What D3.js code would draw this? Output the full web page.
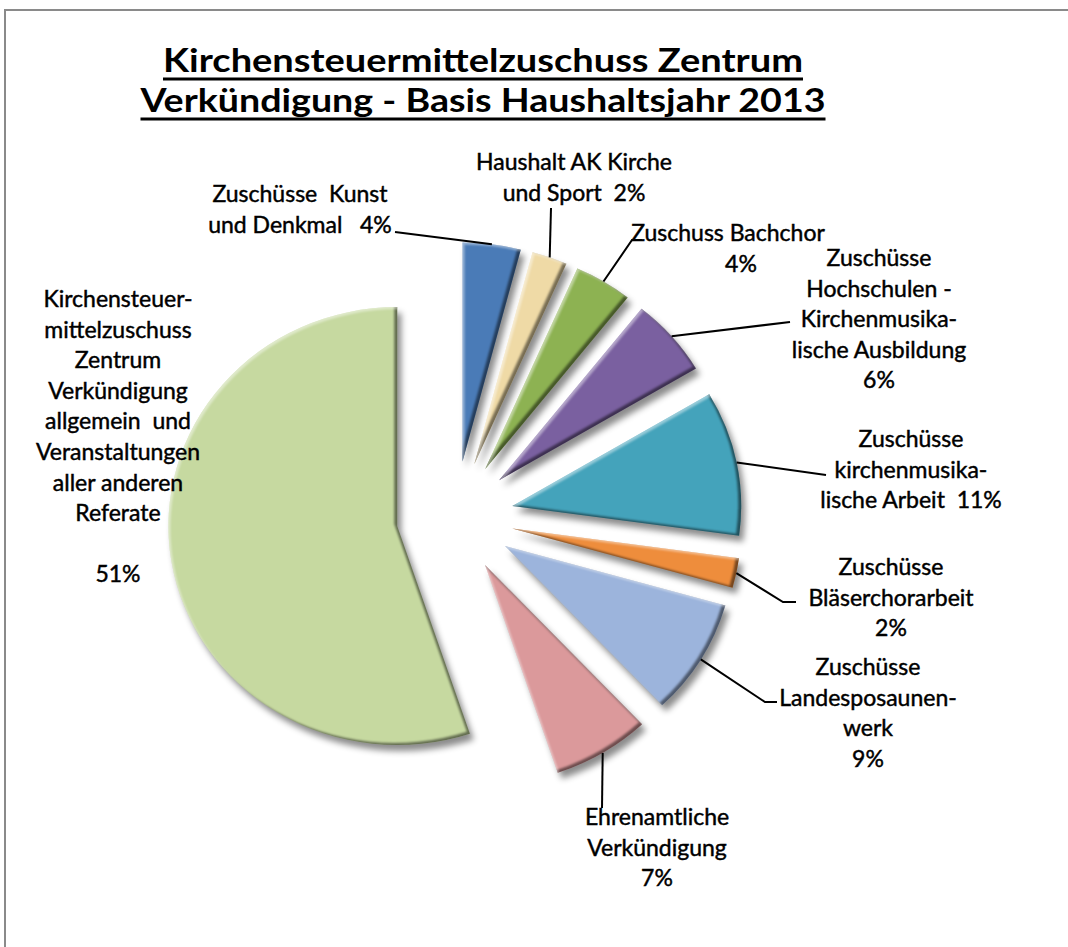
<!DOCTYPE html>
<html>
<head>
<meta charset="utf-8">
<script src="https://cdn.jsdelivr.net/npm/d3@7"></script>
<style>
  html, body { margin: 0; padding: 0; background: #fff; }
  svg { display: block; }
  text { font-family: Lato, "DejaVu Sans", sans-serif; fill: #000; white-space: pre; }
</style>
</head>
<body>
<svg id="chart" width="1068" height="947"></svg>
<script>
var titleLines = ["Kirchensteuermittelzuschuss Zentrum", "Verkündigung - Basis Haushaltsjahr 2013"];

var categories = [
  "Zuschüsse Kunst und Denkmal",
  "Haushalt AK Kirche und Sport",
  "Zuschuss Bachchor",
  "Zuschüsse Hochschulen - Kirchenmusikalische Ausbildung",
  "Zuschüsse kirchenmusikalische Arbeit",
  "Zuschüsse Bläserchorarbeit",
  "Zuschüsse Landesposaunenwerk",
  "Ehrenamtliche Verkündigung",
  "Kirchensteuermittelzuschuss Zentrum Verkündigung allgemein und Veranstaltungen aller anderen Referate"
];

// share of the circle as drawn (percent)
var shares = [4.1, 2.5, 4.1, 5.8, 10.7, 2.2, 8.6, 6.9, 55.2];

// percentages as printed on the labels
var pctLabels = ["4%", "2%", "4%", "6%", "11%", "2%", "9%", "7%", "51%"];

var colors = ["#4a7bb7", "#efdaa6", "#8db252", "#7a60a0", "#44a3bb", "#ee8d3c", "#9cb4dc", "#db999b", "#c6d9a0"];

// label text, line by line
var labelLines = [
  ["Zuschüsse  Kunst", "und Denkmal   " + pctLabels[0]],
  ["Haushalt AK Kirche", "und Sport  " + pctLabels[1]],
  ["Zuschuss Bachchor", pctLabels[2]],
  ["Zuschüsse", "Hochschulen -", "Kirchenmusika-", "lische Ausbildung", pctLabels[3]],
  ["Zuschüsse", "kirchenmusika-", "lische Arbeit  " + pctLabels[4]],
  ["Zuschüsse", "Bläserchorarbeit", pctLabels[5]],
  ["Zuschüsse", "Landesposaunen-", "werk", pctLabels[6]],
  ["Ehrenamtliche", "Verkündigung", pctLabels[7]],
  ["Kirchensteuer-", "mittelzuschuss", "Zentrum", "Verkündigung", "allgemein  und",
   "Veranstaltungen", "aller anderen", "Referate", "", pctLabels[8]]
];

// label placement (centre x, first baseline, per-line x shift)
var labelPos = [
  {x: 300, y: 202, dx: [0, 0]},
  {x: 574, y: 170, dx: [0, 0]},
  {x: 728, y: 241, dx: [0, 13]},
  {x: 879, y: 266, dx: []},
  {x: 911, y: 447, dx: []},
  {x: 891, y: 575, dx: []},
  {x: 868, y: 675, dx: []},
  {x: 657, y: 825, dx: []},
  {x: 118, y: 307, dx: []}
];
var lineStep = 30.6;

// leader line bends, from the label towards the slice
var leaderBends = [
  [[395, 232]],
  [[551, 208]],
  [[642, 240], [632, 240]],
  [[790, 322]],
  [[826, 475]],
  [[796, 602], [783, 602]],
  [[777, 702], [765, 702]],
  [[602, 808]],
  null
];

var svg = d3.select("#chart");
var W = +svg.attr("width"), H = +svg.attr("height");

var defs = svg.append("defs");
var f = defs.append("filter").attr("id", "bevel")
  .attr("filterUnits", "userSpaceOnUse")
  .attr("x", -320).attr("y", -320).attr("width", 640).attr("height", 640)
  .attr("color-interpolation-filters", "sRGB");
f.append("feOffset").attr("in", "SourceAlpha").attr("dx", 4).attr("dy", 6).attr("result", "sOff");
f.append("feGaussianBlur").attr("in", "sOff").attr("stdDeviation", 3).attr("result", "sBlur");
f.append("feFlood").attr("flood-color", "#000").attr("flood-opacity", 0.45);
f.append("feComposite").attr("in2", "sBlur").attr("operator", "in").attr("result", "shadow");
f.append("feOffset").attr("in", "SourceAlpha").attr("dx", -2.5).attr("dy", -2.5).attr("result", "o1");
f.append("feGaussianBlur").attr("in", "o1").attr("stdDeviation", 1.2).attr("result", "b1");
f.append("feComposite").attr("in", "SourceAlpha").attr("in2", "b1").attr("operator", "out").attr("result", "edgeDark");
f.append("feFlood").attr("flood-color", "#000").attr("flood-opacity", 0.5);
f.append("feComposite").attr("in2", "edgeDark").attr("operator", "in").attr("result", "dark");
f.append("feOffset").attr("in", "SourceAlpha").attr("dx", 2).attr("dy", 2).attr("result", "o2");
f.append("feGaussianBlur").attr("in", "o2").attr("stdDeviation", 1.2).attr("result", "b2");
f.append("feComposite").attr("in", "SourceAlpha").attr("in2", "b2").attr("operator", "out").attr("result", "edgeLight");
f.append("feFlood").attr("flood-color", "#fff").attr("flood-opacity", 0.45);
f.append("feComposite").attr("in2", "edgeLight").attr("operator", "in").attr("result", "light");
var merge = f.append("feMerge");
["shadow", "SourceGraphic", "dark", "light"].forEach(function(n) { merge.append("feMergeNode").attr("in", n); });

// frame
svg.append("rect")
  .attr("x", 5).attr("y", 10).attr("width", W + 20).attr("height", H + 20)
  .attr("fill", "none").attr("stroke", "#8a8a8a").attr("stroke-width", 2);

// title, each line underlined
var titleX = 483;
var titleBase = [72, 112];
var titleLen = [640, 685];
titleLines.forEach(function(t, i) {
  svg.append("text")
    .attr("x", titleX).attr("y", titleBase[i])
    .attr("text-anchor", "middle")
    .attr("textLength", titleLen[i]).attr("lengthAdjust", "spacingAndGlyphs")
    .style("font-size", "33px").style("font-weight", "bold")
    .text(t);
  svg.append("line")
    .attr("x1", titleX - titleLen[i] / 2).attr("x2", titleX + titleLen[i] / 2)
    .attr("y1", titleBase[i] + 7).attr("y2", titleBase[i] + 7)
    .attr("stroke", "#000").attr("stroke-width", 3);
});

// pie
var cx = 455, cy = 517, R = 219, explode = 56, sx = 1.045;

var pie = d3.pie().sort(null).value(function(d) { return d; });
var arcs = pie(shares);
var arc = d3.arc().innerRadius(0).outerRadius(R);

var canvas = svg.append("g").attr("transform", `translate(${cx}, ${cy}) scale(${sx}, 1)`);

function offsetOf(d, r) {
  var a = (d.startAngle + d.endAngle) / 2;
  return [r * Math.sin(a), -r * Math.cos(a)];
}

canvas.selectAll("path.slice")
  .data(arcs)
  .enter().append("path")
    .attr("class", "slice")
    .attr("d", arc)
    .attr("fill", function(d, i) { return colors[i]; })
    .attr("filter", "url(#bevel)")
    .attr("transform", function(d) { var o = offsetOf(d, explode); return `translate(${o[0]}, ${o[1]})`; })
  .append("title").text(function(d, i) { return categories[i] + ": " + pctLabels[i]; });

// leader lines: from label bend points to the middle of each slice's arc
var line = d3.line();
arcs.forEach(function(d, i) {
  if (!leaderBends[i]) return;
  var o = offsetOf(d, explode + R);
  var end = [cx + o[0] * sx, cy + o[1]];
  svg.append("path")
    .attr("d", line(leaderBends[i].concat([end])))
    .attr("fill", "none").attr("stroke", "#000").attr("stroke-width", 2);
});

// labels
labelLines.forEach(function(lines, i) {
  var p = labelPos[i];
  var t = svg.append("text")
    .attr("text-anchor", "middle")
    .style("font-size", "23px")
    .style("stroke", "#000").style("stroke-width", 0.45);
  lines.forEach(function(s, j) {
    t.append("tspan")
      .attr("x", p.x + (p.dx[j] || 0))
      .attr("y", p.y + j * lineStep)
      .text(s);
  });
});
</script>
</body>
</html>
